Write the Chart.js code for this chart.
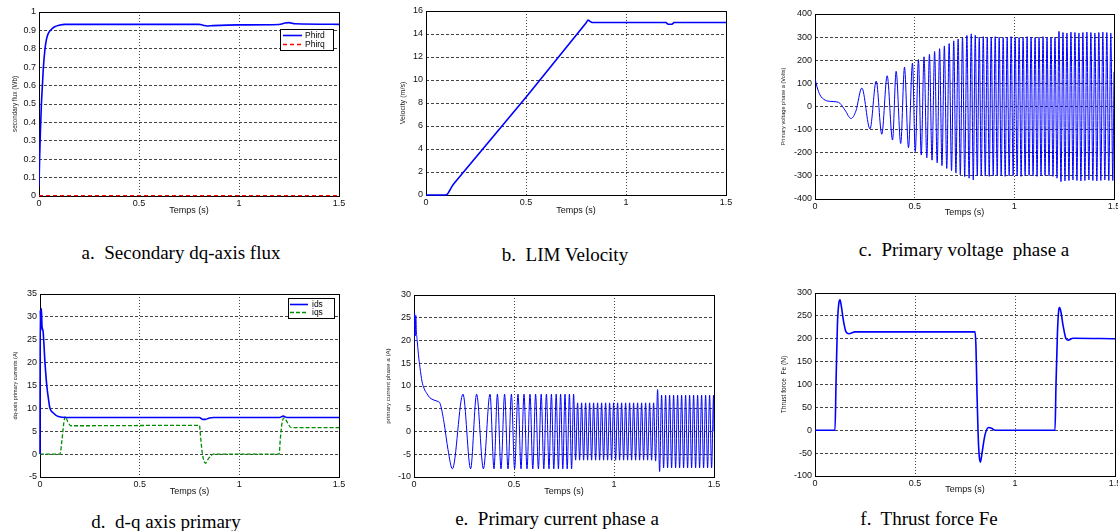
<!DOCTYPE html>
<html>
<head>
<meta charset="utf-8">
<script src="https://cdn.jsdelivr.net/npm/chart.js@4.4.0/dist/chart.umd.min.js"></script>
<style>
  html, body { margin: 0; padding: 0; background: #fff; }
  body { position: relative; width: 1118px; height: 531px; overflow: hidden; }
  canvas { position: absolute; }
  .cap {
    position: absolute; white-space: nowrap; transform: translateX(-50%);
    font-family: "Liberation Serif", "Times New Roman", serif; font-size: 19px; line-height: 19px; color: #000;
  }
</style>
</head>
<body>
<div class="cap" style="left:181px;top:243px">a.&nbsp; Secondary dq-axis flux</div>
<div class="cap" style="left:565px;top:245px">b.&nbsp; LIM Velocity</div>
<div class="cap" style="left:964px;top:240px">c.&nbsp; Primary voltage&nbsp; phase a</div>
<div class="cap" style="left:166px;top:512px">d.&nbsp; d-q axis primary</div>
<div class="cap" style="left:557px;top:509px">e.&nbsp; Primary current phase a</div>
<div class="cap" style="left:929px;top:509px">f.&nbsp; Thrust force Fe</div>
<script>
// a. secondary flux
const fluxT = [0, 0.003, 0.007, 0.012, 0.017, 0.022, 0.03, 0.037, 0.045, 0.057, 0.078, 0.1, 0.13, 0.8, 0.82, 0.84, 0.87, 1.0, 1.2, 1.23, 1.25, 1.28, 1.5];
const phirdVals = [0.05, 0.2, 0.35, 0.5, 0.6, 0.7, 0.8, 0.85, 0.88, 0.9, 0.92, 0.928, 0.933, 0.933, 0.928, 0.924, 0.926, 0.93, 0.932, 0.94, 0.942, 0.936, 0.933];
const phirqT = [0, 1.5];
const phirqVals = [0.002, 0.002];

// b. velocity
const velT = [0, 0.1, 0.105, 0.112, 0.12, 0.13, 0.14, 0.5, 0.8, 0.805, 0.81, 0.815, 0.82, 0.83, 1.2, 1.205, 1.21, 1.23, 1.235, 1.24, 1.5];
const velVals = [0, 0, 0.05, 0.2, 0.45, 0.75, 1.0, 8.5, 14.95, 15.1, 15.2, 15.18, 15.1, 15.0, 15.0, 14.93, 14.85, 14.85, 14.93, 15.0, 15.0];

// c. primary voltage phase a (extrema)
const voltT = [
  0, 0.01, 0.025, 0.05, 0.08, 0.11, 0.125, 0.15, 0.181, 0.205,
  0.235, 0.276, 0.307, 0.335, 0.362, 0.389, 0.407, 0.43, 0.449, 0.469,
  0.489, 0.503, 0.519, 0.533, 0.547, 0.561, 0.574, 0.587, 0.6, 0.613,
  0.625, 0.637, 0.649, 0.661, 0.673, 0.685, 0.696, 0.707, 0.718, 0.729,
  0.74, 0.751, 0.762, 0.773, 0.784, 0.794, 0.804, 0.814,
  0.824, 0.834, 0.844, 0.854, 0.864, 0.874, 0.884, 0.894, 0.904, 0.914,
  0.924, 0.934, 0.944, 0.954, 0.964, 0.974, 0.984, 0.994, 1.004, 1.014,
  1.024, 1.034, 1.044, 1.054, 1.064, 1.074, 1.084, 1.094, 1.104, 1.114,
  1.124, 1.134, 1.144, 1.154, 1.164, 1.174, 1.184, 1.194, 1.204, 1.214,
  1.224, 1.234, 1.244, 1.254, 1.264, 1.274, 1.284, 1.294, 1.304, 1.314,
  1.324, 1.334, 1.344, 1.354, 1.364, 1.374, 1.384, 1.394, 1.404, 1.414,
  1.424, 1.434, 1.444, 1.454, 1.464, 1.474, 1.484, 1.494, 1.5
];
const voltVals = [
  120, 85, 50, 28, 22, 20, 14, -15, -52, -20,
  80, -97, 110, -120, 133, -145, 152, -160, 170, -178,
  188, -195, 203, -210, 215, -222, 226, -232, 238, -244,
  250, -256, 262, -268, 272, -278, 284, -288, 292, -296,
  300, -303, 307, -310, 314, -318, 308, -300,
  300, -298, 302, -300, 298, -302, 300, -300, 302, -298,
  300, -300, 298, -302, 300, -300, 302, -298, 300, -300,
  298, -302, 300, -300, 302, -298, 300, -300, 298, -302,
  300, -300, 302, -298, 300, -300, 298, -302, 300, -310,
  325, -325, 320, -322, 318, -320, 322, -318, 320, -320,
  318, -322, 320, -320, 322, -318, 320, -320, 318, -322,
  320, -320, 322, -318, 320, -320, 318, -320, 150
];

// d. dq-axis primary currents
const idsT = [0, 0.001, 0.004, 0.007, 0.01, 0.015, 0.025, 0.034, 0.042, 0.05, 0.067, 0.092, 0.134, 0.8, 0.815, 0.83, 0.85, 0.87, 1.2, 1.22, 1.24, 1.5];
const idsVals = [0, 31.5, 27, 31.8, 28, 27, 20, 15, 12.2, 10, 9, 8.2, 8.0, 8.0, 7.6, 7.6, 7.9, 8.0, 8.0, 8.3, 8.0, 8.0];
const iqsT = [0, 0.1, 0.11, 0.12, 0.127, 0.14, 0.155, 0.8, 0.805, 0.815, 0.83, 0.845, 0.87, 1.2, 1.205, 1.215, 1.225, 1.24, 1.26, 1.5];
const iqsVals = [0, 0, 3, 7, 8.2, 7, 6.2, 6.3, 4, 0, -2, -1, 0, 0, 3, 7, 7.9, 7, 5.8, 5.8];

// e. primary current phase a (extrema)
const currT = [
  0, 0.003, 0.006, 0.009, 0.012, 0.016, 0.022, 0.03, 0.04, 0.05,
  0.065, 0.08, 0.1, 0.12, 0.13, 0.15, 0.17, 0.192,
  0.245, 0.283, 0.313, 0.347, 0.38, 0.4, 0.417, 0.435, 0.453, 0.47,
  0.487, 0.503, 0.52, 0.535, 0.55, 0.565, 0.58, 0.594, 0.608, 0.622,
  0.636, 0.649, 0.662, 0.675, 0.687, 0.699, 0.711, 0.722, 0.733, 0.744,
  0.755, 0.766, 0.777, 0.788, 0.798,
  0.808, 0.818, 0.828, 0.838, 0.848, 0.858, 0.868, 0.878, 0.888, 0.898,
  0.908, 0.918, 0.928, 0.938, 0.948, 0.958, 0.968, 0.978, 0.988, 0.998,
  1.008, 1.018, 1.028, 1.038, 1.048, 1.058, 1.068, 1.078, 1.088, 1.098,
  1.108, 1.118, 1.128, 1.138, 1.148, 1.158, 1.168, 1.178, 1.188, 1.198,
  1.208, 1.218, 1.228, 1.238, 1.248, 1.258, 1.268, 1.278, 1.288, 1.298,
  1.308, 1.318, 1.328, 1.338, 1.348, 1.358, 1.368, 1.378, 1.388, 1.398,
  1.408, 1.418, 1.428, 1.438, 1.448, 1.458, 1.468, 1.478, 1.488, 1.498, 1.5
];
const currVals = [
  18.5, 26, 21, 25.5, 22, 20, 17, 14, 11, 9.5,
  8.3, 7.4, 6.9, 6.6, 6.2, 2, -4, -8.2,
  8.2, -8.2, 8.2, -8.2, 8.2, -8.2, 8.2, -8.2, 8.2, -8.2,
  8.2, -8.2, 8.2, -8.2, 8.2, -8.2, 8.2, -8.2, 8.2, -8.2,
  8.2, -8.2, 8.2, -8.2, 8.2, -8.2, 8.2, -8.2, 8.2, -8.2,
  8.2, -8.2, 8.2, -8.2, 8.2,
  -6.3, 6.3, -6.3, 6.3, -6.3, 6.3, -6.3, 6.3, -6.3, 6.3,
  -6.3, 6.3, -6.3, 6.3, -6.3, 6.3, -6.3, 6.3, -6.3, 6.3,
  -6.3, 6.3, -6.3, 6.3, -6.3, 6.3, -6.3, 6.3, -6.3, 6.3,
  -6.3, 6.3, -6.3, 6.3, -6.3, 6.3, -6.3, 6.3, -6.3, 6.3,
  -6.5, 9.2, -8.8, 8, -8, 8, -8, 8, -8, 8,
  -8, 8, -8, 8, -8, 8, -8, 8, -8, 8,
  -8, 8, -8, 8, -8, 8, -8, 8, -8, 8, 0
];

// f. thrust force
const thrustT = [0, 0.1, 0.105, 0.112, 0.12, 0.125, 0.132, 0.142, 0.155, 0.17, 0.2, 0.8, 0.805, 0.81, 0.815, 0.82, 0.827, 0.835, 0.85, 0.868, 0.885, 0.9, 1.2, 1.205, 1.212, 1.218, 1.223, 1.23, 1.24, 1.255, 1.265, 1.29, 1.5];
const thrustVals = [0, 0, 100, 230, 280, 285, 270, 240, 215, 211, 215, 215, 180, 80, 0, -50, -70, -50, -10, 6, 4, 0, 0, 100, 210, 260, 268, 258, 230, 200, 197, 201, 200];

const BLUE = "rgb(0,0,255)";
const TICK_FONT = { family: "'Liberation Sans', Arial, sans-serif", size: 9 };

function pts(xs, ys) {
  return xs.map((x, i) => ({ x: x, y: ys[i] }));
}

// matlab style: 1 not 1.0, 0.5 not 0.50
function tickText(v) {
  return String(Math.round(v * 1000) / 1000);
}

// frame round the plot area + matlab-like legend box inside it
const plotBox = {
  id: "plotBox",
  beforeDatasetsDraw(chart) {
    const { ctx, chartArea: a } = chart;
    ctx.save();
    ctx.strokeStyle = "#000";
    ctx.lineWidth = 1;
    ctx.strokeRect(Math.round(a.left) + 0.5, Math.round(a.top) + 0.5,
      Math.round(a.right - a.left), Math.round(a.bottom - a.top));
    ctx.restore();
  },
  afterDatasetsDraw(chart, args, opts) {
    const lg = opts.legend;
    if (!lg) return;
    const { ctx, chartArea: a } = chart;
    const x = Math.round(a.right - lg.right - lg.w);
    const y = Math.round(a.top + lg.top);
    ctx.save();
    ctx.fillStyle = "#fff";
    ctx.fillRect(x, y, lg.w, lg.h);
    ctx.strokeStyle = "#000";
    ctx.lineWidth = 1;
    ctx.strokeRect(x + 0.5, y + 0.5, lg.w, lg.h);
    ctx.font = "8.5px 'Liberation Sans', Arial, sans-serif";
    ctx.textBaseline = "middle";
    chart.data.datasets.forEach((ds, i) => {
      const ly = y + lg.rows[i] + 0.5;
      ctx.strokeStyle = ds.borderColor;
      ctx.lineWidth = ds.borderWidth;
      ctx.setLineDash(ds.borderDash || []);
      ctx.beginPath();
      ctx.moveTo(x + lg.x0, ly);
      ctx.lineTo(x + lg.x1, ly);
      ctx.stroke();
      ctx.setLineDash([]);
      ctx.fillStyle = "#000";
      ctx.fillText(ds.label, x + lg.tx, ly);
    });
    ctx.restore();
  }
};

function makeChart(g) {
  const cl = g.l - 40, ct = g.t - 10, cr = g.r + 22, cb = g.b + 25;
  const cv = document.createElement("canvas");
  cv.width = cr - cl;
  cv.height = cb - ct;
  cv.style.left = cl + "px";
  cv.style.top = ct + "px";
  document.body.appendChild(cv);

  const yLH = g.ySize * 1.2;
  const xLH = TICK_FONT.size * 1.2;

  new Chart(cv, {
    type: "line",
    data: { datasets: g.datasets },
    options: {
      responsive: false,
      animation: false,
      events: [],
      layout: { padding: { left: 0, top: 10, right: 22, bottom: 0 } },
      elements: { point: { radius: 0 }, line: { cubicInterpolationMode: "monotone" } },
      plugins: {
        legend: { display: false },
        tooltip: { enabled: false },
        plotBox: { legend: g.legend || null }
      },
      scales: {
        x: {
          type: "linear",
          min: 0,
          max: 1.5,
          ticks: { stepSize: 0.5, font: TICK_FONT, color: "#111", padding: 2, maxRotation: 0, autoSkip: false, callback: tickText },
          grid: { color: "#444", lineWidth: 1, drawTicks: false },
          border: { display: false, dash: [1, 2] },
          title: {
            display: true, text: "Temps (s)", font: TICK_FONT, color: "#111",
            padding: { top: 0, bottom: cb - xLH / 2 - g.xTitleY }
          },
          afterFit(s) { s.height = 25; s.paddingLeft = 0; s.paddingRight = 0; }
        },
        y: {
          min: g.yMin,
          max: g.yMax,
          ticks: { stepSize: g.yStep, font: TICK_FONT, color: "#111", padding: 3, autoSkip: false, callback: tickText },
          grid: { color: "#444", lineWidth: 1, drawTicks: false },
          border: { display: false, dash: [3, 2] },
          title: {
            display: true, text: g.yTitle, color: "#222",
            font: { family: "'Liberation Sans', Arial, sans-serif", size: g.ySize },
            padding: { top: g.yTitleX - cl - yLH / 2, bottom: 0 }
          },
          afterFit(s) { s.width = 40; s.paddingTop = 0; s.paddingBottom = 0; }
        }
      }
    },
    plugins: [plotBox]
  });
}

makeChart({
  l: 39, t: 12, r: 339, b: 196, yMin: 0, yMax: 1, yStep: 0.1,
  yTitle: "secondary flux (Wb)", ySize: 6.3, yTitleX: 15, xTitleY: 211,
  legend: { right: 6, top: 17, w: 53, h: 21, rows: [6, 15], x0: 3, x1: 22, tx: 25 },
  datasets: [
    { label: "Phird", data: pts(fluxT, phirdVals), borderColor: BLUE, borderWidth: 1.6 },
    { label: "Phirq", data: pts(phirqT, phirqVals), borderColor: "rgb(255,0,0)", borderWidth: 1.3, borderDash: [4, 3], clip: 4 }
  ]
});

makeChart({
  l: 426, t: 11, r: 726, b: 195, yMin: 0, yMax: 16, yStep: 2,
  yTitle: "Velocity (m/s)", ySize: 7.1, yTitleX: 403, xTitleY: 211,
  datasets: [
    { label: "Velocity", data: pts(velT, velVals), borderColor: BLUE, borderWidth: 1.6, clip: 4,
      cubicInterpolationMode: "default", tension: 0 }
  ]
});

makeChart({
  l: 815, t: 14, r: 1114, b: 199, yMin: -400, yMax: 400, yStep: 100,
  yTitle: "Primary voltage phase a (Volts)", ySize: 5.6, yTitleX: 783, xTitleY: 213,
  datasets: [
    { label: "Va", data: pts(voltT, voltVals), borderColor: BLUE, borderWidth: 1 }
  ]
});

makeChart({
  l: 40, t: 294, r: 339, b: 477, yMin: -5, yMax: 35, yStep: 5,
  yTitle: "dq-axis primary currents (A)", ySize: 5.5, yTitleX: 15, xTitleY: 492,
  legend: { right: 5, top: 4, w: 46, h: 20, rows: [6, 14], x0: 2, x1: 20, tx: 24 },
  datasets: [
    { label: "ids", data: pts(idsT, idsVals), borderColor: BLUE, borderWidth: 1.6, clip: 4 },
    { label: "iqs", data: pts(iqsT, iqsVals), borderColor: "rgb(0,140,0)", borderWidth: 1.3, borderDash: [4, 2], clip: 4 }
  ]
});

makeChart({
  l: 414, t: 295, r: 714, b: 477, yMin: -10, yMax: 30, yStep: 5,
  yTitle: "primary current phase a (A)", ySize: 6.2, yTitleX: 388, xTitleY: 492,
  datasets: [
    { label: "ia", data: pts(currT, currVals), borderColor: BLUE, borderWidth: 1 }
  ]
});

makeChart({
  l: 815, t: 293, r: 1115, b: 476, yMin: -100, yMax: 300, yStep: 50,
  yTitle: "Thrust force  Fe (N)", ySize: 6.6, yTitleX: 784, xTitleY: 490,
  datasets: [
    { label: "Fe", data: pts(thrustT, thrustVals), borderColor: BLUE, borderWidth: 1.6, clip: 4 }
  ]
});
</script>
</body>
</html>
